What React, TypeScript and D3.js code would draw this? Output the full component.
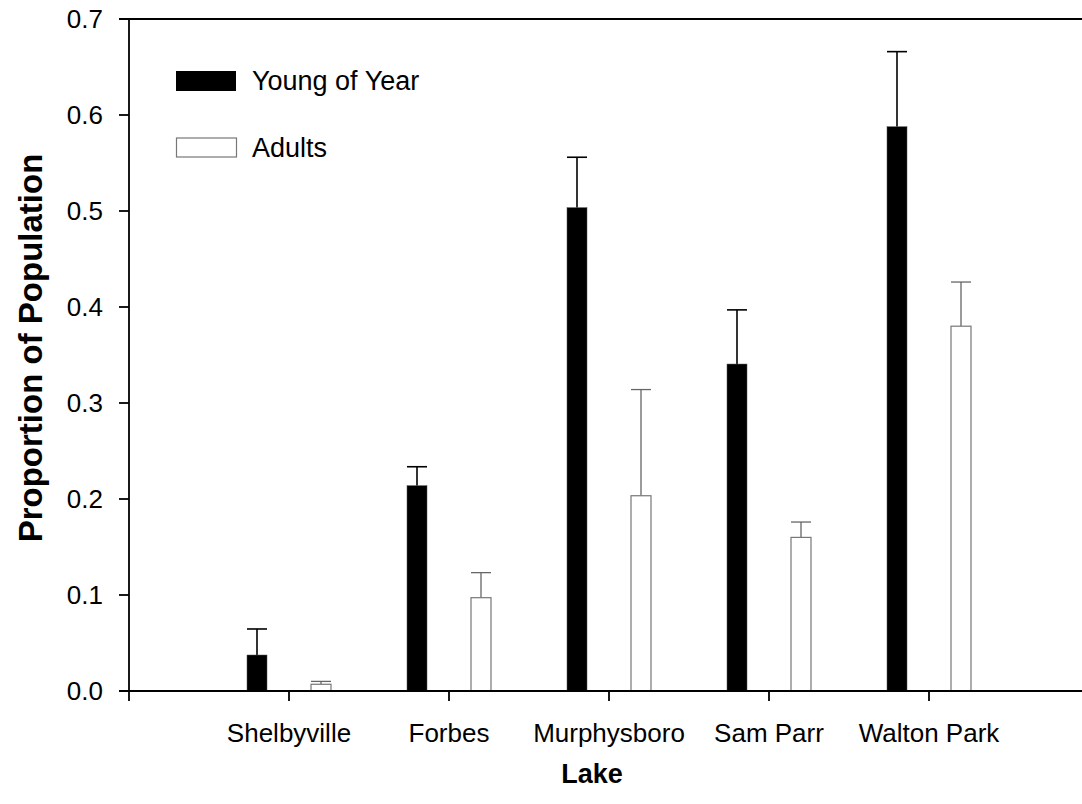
import React from "react";
import * as d3 from "d3";

const lakes = ["Shelbyville", "Forbes", "Murphysboro", "Sam Parr", "Walton Park"];
const youngOfYear = [0.0375, 0.2139, 0.5035, 0.3406, 0.5878];
const youngOfYearErr = [0.0271, 0.0197, 0.0525, 0.0564, 0.0782];
const adults = [0.007, 0.0972, 0.2034, 0.16, 0.38];
const adultsErr = [0.003, 0.0261, 0.1106, 0.016, 0.046];
const yTicks = [0, 0.1, 0.2, 0.3, 0.4, 0.5, 0.6, 0.7];

const W = 1082;
const H = 804;
const left = 129;
const top = 19;
const bottom = 691;
const right = 1082;

export default function App() {
  const x = d3.scaleLinear().domain([-1, 5]).range([left, 1089]);
  const y = d3.scaleLinear().domain([0, 0.7]).range([bottom, top]);
  const barW = 20;
  const off = 32;
  const font = "'Liberation Sans', Arial, sans-serif";
  const cap = 10;

  return (
    <svg width={W} height={H} style={{ position: "absolute", left: 0, top: 0, background: "#fff" }} fontFamily={font}>
      {/* bars */}
      {lakes.map((l, i) => {
        const cx = x(i) - off;
        const ty = y(youngOfYear[i]);
        const ey = y(youngOfYear[i] + youngOfYearErr[i]);
        return (
          <g key={"y" + l}>
            <line x1={cx} x2={cx} y1={ty} y2={ey} stroke="#000" strokeWidth={1.6} />
            <line x1={cx - cap} x2={cx + cap} y1={ey} y2={ey} stroke="#000" strokeWidth={1.6} />
            <rect x={cx - barW / 2} y={ty} width={barW} height={bottom - ty} fill="#000" stroke="#555" strokeWidth={0.5} />
          </g>
        );
      })}
      {lakes.map((l, i) => {
        const cx = x(i) + off;
        const ty = y(adults[i]);
        const ey = y(adults[i] + adultsErr[i]);
        return (
          <g key={"a" + l}>
            <line x1={cx} x2={cx} y1={ty} y2={ey} stroke="#666" strokeWidth={1.3} />
            <line x1={cx - cap} x2={cx + cap} y1={ey} y2={ey} stroke="#666" strokeWidth={1.3} />
            <rect x={cx - barW / 2} y={ty} width={barW} height={bottom - ty} fill="#fff" stroke="#777" strokeWidth={1.2} />
          </g>
        );
      })}
      {/* axes */}
      <line x1={left} x2={left} y1={top} y2={bottom} stroke="#000" strokeWidth={1.8} />
      <line x1={left - 10} x2={right} y1={bottom} y2={bottom} stroke="#000" strokeWidth={1.8} />
      <line x1={left - 10} x2={right} y1={top} y2={top} stroke="#000" strokeWidth={1.8} />
      {yTicks.map((t) => (
        <g key={"t" + t}>
          <line x1={left - 10} x2={left} y1={y(t)} y2={y(t)} stroke="#000" strokeWidth={1.8} />
          <text x={103} y={y(t)} dy="0.35em" textAnchor="end" fontSize={26}>
            {t.toFixed(1)}
          </text>
        </g>
      ))}
      {lakes.map((l, i) => (
        <g key={"x" + l}>
          <line x1={x(i)} x2={x(i)} y1={bottom} y2={bottom + 10} stroke="#000" strokeWidth={1.8} />
          <text x={x(i)} y={742} textAnchor="middle" fontSize={26}>
            {l}
          </text>
        </g>
      ))}
      <line x1={left} x2={left} y1={bottom} y2={bottom + 10} stroke="#000" strokeWidth={1.8} />
      <text x={592} y={774} dy="0.35em" textAnchor="middle" fontSize={27} fontWeight="bold">
        Lake
      </text>
      <text transform={`translate(30,348) rotate(-90)`} dy="0.35em" textAnchor="middle" fontSize={33} fontWeight="bold">
        Proportion of Population
      </text>
      {/* legend */}
      <rect x={176} y={71} width={60} height={20} fill="#000" />
      <text x={252} y={81} dy="0.35em" fontSize={27}>Young of Year</text>
      <rect x={176.5} y={138} width={60} height={19} fill="#fff" stroke="#777" strokeWidth={1.2} />
      <text x={252} y={147.5} dy="0.35em" fontSize={27}>Adults</text>
    </svg>
  );
}
